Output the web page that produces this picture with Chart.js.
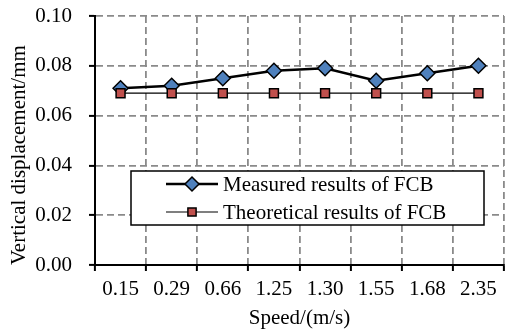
<!DOCTYPE html>
<html>
<head>
<meta charset="utf-8">
<script src="https://cdn.jsdelivr.net/npm/chart.js@4.4.1/dist/chart.umd.min.js"></script>
<style>
  html, body { margin: 0; padding: 0; background: #fff; }
  canvas { display: block; }
</style>
</head>
<body>
<canvas id="speedChart" width="513" height="333"></canvas>
<script>
// Chart data
const speeds = ['0.15', '0.29', '0.66', '1.25', '1.30', '1.55', '1.68', '2.35'];
const measured = [0.071, 0.072, 0.075, 0.078, 0.079, 0.074, 0.077, 0.080];
const theoretical = [0.069, 0.069, 0.069, 0.069, 0.069, 0.069, 0.069, 0.069];
const seriesNames = ['Measured results of FCB', 'Theoretical results of FCB'];

const FONT = '"Liberation Serif", "Times New Roman", serif';
const FSIZE = 21;

// legend box drawn inside the plot area
const boxLegend = {
    id: 'boxLegend',
    afterDatasetsDraw(chart) {
        const { ctx, chartArea: a } = chart;
        const x = a.left + 36, y = a.top + 155, w = 353, h = 54;
        ctx.save();
        ctx.fillStyle = '#fff';
        ctx.fillRect(x, y, w, h);
        ctx.lineWidth = 1.5;
        ctx.strokeStyle = '#000';
        ctx.strokeRect(x, y, w, h);

        chart.data.datasets.forEach((ds, i) => {
            const cy = y + 13 + i * 28;
            const x1 = x + 35, x2 = x + 87;
            ctx.beginPath();
            ctx.lineWidth = ds.borderWidth;
            ctx.strokeStyle = ds.borderColor;
            ctx.moveTo(x1, cy);
            ctx.lineTo(x2, cy);
            ctx.stroke();
            ctx.fillStyle = ds.pointBackgroundColor;
            ctx.strokeStyle = ds.pointBorderColor;
            ctx.lineWidth = ds.pointBorderWidth;
            Chart.helpers.drawPoint(ctx, { pointStyle: ds.pointStyle, radius: ds.pointRadius - 0.5, rotation: 0, borderWidth: ds.pointBorderWidth }, (x1 + x2) / 2, cy);
            ctx.fillStyle = '#000';
            ctx.font = FSIZE + 'px ' + FONT;
            ctx.textAlign = 'left';
            ctx.textBaseline = 'middle';
            ctx.fillText(ds.label, x2 + 5, cy + 1);
        });
        ctx.restore();
    }
};

new Chart(document.getElementById('speedChart'), {
    type: 'line',
    data: {
        labels: speeds,
        datasets: [
            {
                label: seriesNames[0], data: measured, order: 1,
                borderColor: '#000', borderWidth: 2.5,
                pointStyle: 'rectRot', pointRadius: 7.5,
                pointBackgroundColor: '#4F81BD', pointBorderColor: '#000', pointBorderWidth: 1.5,
                tension: 0
            },
            {
                label: seriesNames[1], data: theoretical, order: 0,
                borderColor: '#000', borderWidth: 1.2,
                pointStyle: 'rect', pointRadius: 6.3,
                pointBackgroundColor: '#C0504D', pointBorderColor: '#000', pointBorderWidth: 1.5,
                tension: 0
            }
        ]
    },
    options: {
        responsive: false,
        animation: false,
        layout: { padding: { top: 16, right: 1, left: 0, bottom: 0 } },
        plugins: { legend: { display: false }, tooltip: { enabled: false } },
        scales: {
            x: {
                offset: true,
                afterFit: s => { s.height = 68; s.paddingLeft = 0; s.paddingRight = 0; },
                grid: { offset: true, color: '#8a8a8a', lineWidth: 1.8, tickLength: 6, tickColor: '#000', tickWidth: 2, tickBorderDash: [] },
                border: { color: '#000', width: 2, dash: [7, 4] },
                ticks: { color: '#000', font: { family: FONT, size: FSIZE }, padding: 6, maxRotation: 0 },
                title: { display: true, text: 'Speed/(m/s)', color: '#000', font: { family: FONT, size: FSIZE }, padding: { top: 0, bottom: 2 } }
            },
            y: {
                min: 0, max: 0.1,
                afterFit: s => { s.width = 95; s.paddingTop = 0; s.paddingBottom = 0; },
                grid: { color: '#8a8a8a', lineWidth: 1.8, tickLength: 6, tickColor: '#000', tickWidth: 2, tickBorderDash: [] },
                border: { color: '#000', width: 2, dash: [7, 4] },
                ticks: { stepSize: 0.02, color: '#000', font: { family: FONT, size: FSIZE }, padding: 17, callback: v => v.toFixed(2) },
                title: { display: true, align: 'start', text: 'Vertical displacement/mm', color: '#000', font: { family: FONT, size: FSIZE }, padding: { top: 7, bottom: 0 } }
            }
        }
    },
    plugins: [boxLegend]
});
</script>
</body>
</html>
